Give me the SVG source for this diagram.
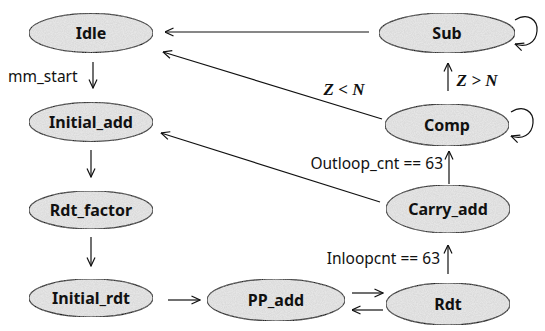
<svg xmlns="http://www.w3.org/2000/svg" width="545" height="331" viewBox="0 0 545 331">
  <style>
    .state ellipse { fill: #e6e6e6; stroke: #222; stroke-width: 1.2; }
    .state text { font-family: "Noto Sans", "Open Sans", sans-serif; font-weight: bold; font-size: 16px; fill: #111; text-anchor: middle; }
    .edge { stroke: #111; stroke-width: 1.2; fill: none; marker-end: url(#arrow); }
    .lbl { font-family: "Noto Sans", "Open Sans", sans-serif; font-size: 15.5px; fill: #111; }
    .math { font-family: "Liberation Serif", serif; font-weight: bold; font-style: italic; font-size: 17px; fill: #111; }
  </style>
  <defs>
    <marker id="arrow" viewBox="0 0 10 10" refX="9.5" refY="5" markerWidth="10" markerHeight="10" markerUnits="userSpaceOnUse" orient="auto">
      <path d="M1,1 L9.5,5 L1,9" fill="none" stroke="#111" stroke-width="1.2"/>
    </marker>
    <filter id="grain" x="0" y="0" width="100%" height="100%">
      <feTurbulence type="fractalNoise" baseFrequency="0.9" numOctaves="2" seed="3" result="n"/>
      <feColorMatrix in="n" type="matrix" values="0 0 0 0 0.5  0 0 0 0 0.5  0 0 0 0 0.5  0 0 0 0.6 -0.15" result="g"/>
      <feComposite in="g" in2="SourceGraphic" operator="in" result="gi"/>
      <feMerge><feMergeNode in="SourceGraphic"/><feMergeNode in="gi"/></feMerge>
    </filter>
  </defs>

  <g id="connectors">
    <!-- vertical chain on the left -->
    <line class="edge" x1="93" y1="62" x2="93" y2="88"/>
    <line class="edge" x1="91" y1="150" x2="91" y2="177"/>
    <line class="edge" x1="91" y1="237" x2="91" y2="266"/>
    <!-- bottom row -->
    <line class="edge" x1="168" y1="300" x2="200" y2="300"/>
    <line class="edge" x1="352" y1="293" x2="383" y2="293"/>
    <line class="edge" x1="383" y1="310" x2="352" y2="310"/>
    <!-- right column going up -->
    <line class="edge" x1="448" y1="274" x2="448" y2="245"/>
    <line class="edge" x1="449" y1="184" x2="449" y2="151"/>
    <line class="edge" x1="448" y1="91" x2="448" y2="63"/>
    <!-- returns to the left column -->
    <line class="edge" x1="369" y1="32" x2="165" y2="32"/>
    <line class="edge" x1="382" y1="119" x2="163" y2="52"/>
    <line class="edge" x1="380" y1="202" x2="161" y2="133"/>
    <!-- self loops -->
    <path class="edge" d="M515,20 C528,12 538,20 537,31 C536,43 526,48 515,44"/>
    <path class="edge" d="M511,112 C524,104 534,112 533,123 C532,135 522,140 511,136"/>
  </g>

  <g id="labels">
    <text class="lbl" x="8" y="82">mm_start</text>
    <text class="math" x="344" y="95" text-anchor="middle">Z &lt; N</text>
    <text class="math" x="477" y="86" text-anchor="middle">Z &gt; N</text>
    <text class="lbl" x="443" y="169" text-anchor="end">Outloop_cnt == 63</text>
    <text class="lbl" x="440" y="264" text-anchor="end">Inloopcnt == 63</text>
  </g>

  <g id="Idle" class="state">
    <ellipse cx="91" cy="33" rx="62" ry="19.5" filter="url(#grain)"/>
    <text x="91" y="38.5">Idle</text>
  </g>
  <g id="Initial_add" class="state">
    <ellipse cx="91" cy="122" rx="62" ry="19.5" filter="url(#grain)"/>
    <text x="91" y="127.5">Initial_add</text>
  </g>
  <g id="Rdt_factor" class="state">
    <ellipse cx="91" cy="210" rx="62" ry="19" filter="url(#grain)"/>
    <text x="91" y="215.5">Rdt_factor</text>
  </g>
  <g id="Initial_rdt" class="state">
    <ellipse cx="91" cy="298" rx="62" ry="19" filter="url(#grain)"/>
    <text x="91" y="303.5">Initial_rdt</text>
  </g>
  <g id="PP_add" class="state">
    <ellipse cx="276" cy="300" rx="69" ry="21" filter="url(#grain)"/>
    <text x="276" y="305.5">PP_add</text>
  </g>
  <g id="Rdt" class="state">
    <ellipse cx="448" cy="304" rx="62" ry="21" filter="url(#grain)"/>
    <text x="448" y="309.5">Rdt</text>
  </g>
  <g id="Carry_add" class="state">
    <ellipse cx="448" cy="209" rx="62" ry="24" filter="url(#grain)"/>
    <text x="448" y="214.5">Carry_add</text>
  </g>
  <g id="Comp" class="state">
    <ellipse cx="447" cy="125" rx="62" ry="21" filter="url(#grain)"/>
    <text x="447" y="130.5">Comp</text>
  </g>
  <g id="Sub" class="state">
    <ellipse cx="447" cy="33" rx="68" ry="20" filter="url(#grain)"/>
    <text x="447" y="38.5">Sub</text>
  </g>
</svg>
